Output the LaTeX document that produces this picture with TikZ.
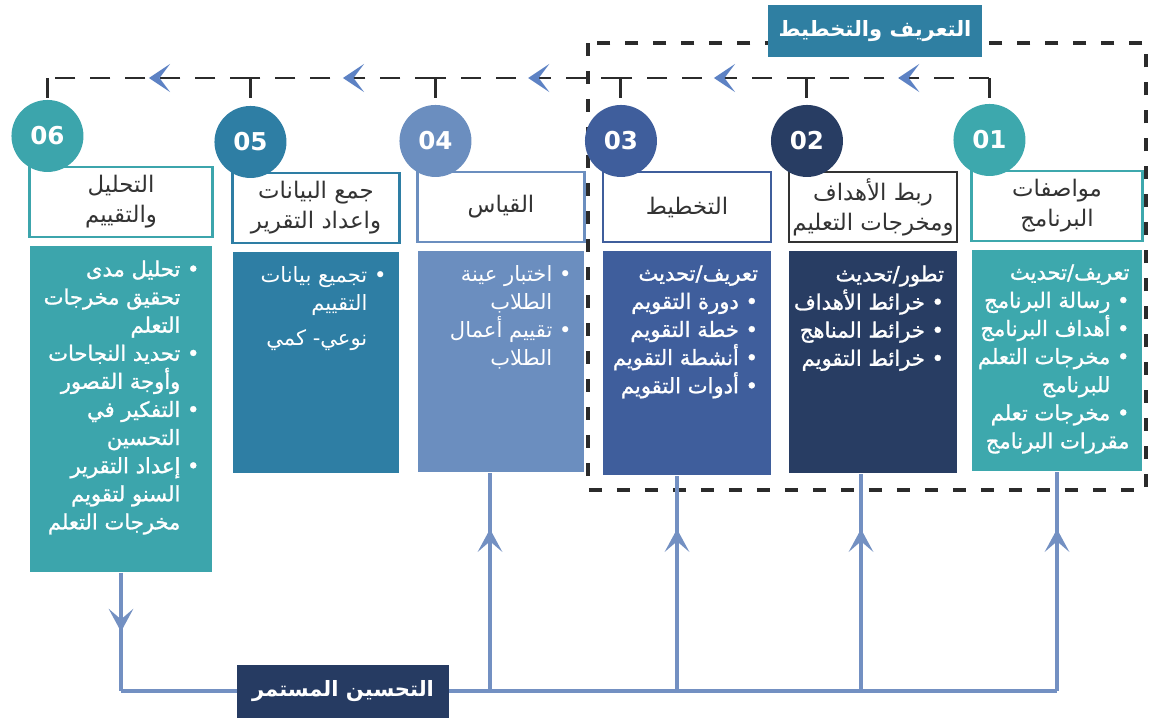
\documentclass[tikz,border=0pt]{standalone}
\usepackage{fontspec}
\setmainfont{DejaVu Sans}
\newfontfamily\arabicfont[Script=Arabic]{DejaVu Sans}
\newfontfamily\arabicmedium[Script=Arabic,FakeBold=1.2]{DejaVu Sans}
\TeXXeTstate=1
\usepackage{xcolor}
\definecolor{STEPA}{HTML}{3DA8AD}
\definecolor{STEPB}{HTML}{283D63}
\definecolor{STEPC}{HTML}{3F5E9C}
\definecolor{STEPD}{HTML}{6B8EBF}
\definecolor{STEPE}{HTML}{2E7EA4}
\definecolor{STEPF}{HTML}{3CA5AC}
\definecolor{TITLECOLOR}{HTML}{2F7FA2}
\definecolor{NAVYCOLOR}{HTML}{263B62}
\definecolor{BUSCOLOR}{HTML}{7390C2}
\definecolor{CHEVCOLOR}{HTML}{5D82C4}
\definecolor{HEADTEXT}{HTML}{333333}
\definecolor{DASHCOLOR}{HTML}{2B2B2B}
\usepackage{tikz}
\usetikzlibrary{positioning,calc,arrows.meta,decorations.markings,backgrounds}
\newcommand\rtxt[1]{\beginR #1\endR}
\newcommand\rbtxt[1]{\arabicmedium\beginR #1\endR}
\newcommand\bul{•\ }
\newcommand\nobul{\phantom{•\ }}
\tikzset{
  head-style/.style = {
    rectangle, draw=#1, line width=1.2pt, fill=white, inner xsep=1pt,
    minimum height=1.4cm, align=center, text=HEADTEXT,
    font=\arabicfont\fontsize{13}{17}\selectfont
  },
  body-style/.style = {
    rectangle, fill=#1, inner sep=0pt
  },
  body-text-style/.style = {
    text=white, align=right, inner sep=0pt, anchor=north east,
    font=\arabicfont\fontsize{12}{16}\selectfont
  },
  num-style/.style = {
    circle, fill=#1, minimum size=1.44cm, inner sep=0pt,
    text=white, font=\bfseries\fontsize{14}{14}\selectfont
  },
  title-style/.style = {
    rectangle, fill=#1, minimum width=4.28cm, minimum height=1.06cm,
    text=white, font=\arabicfont\bfseries\fontsize{12}{14}\selectfont
  },
  frame-style/.style = {
    draw=DASHCOLOR, line width=2.2pt, dash pattern=on 0.26cm off 0.3cm
  },
  flow-dash/.style = {
    draw=DASHCOLOR, line width=1.7pt, dash pattern=on 0.4cm off 0.3cm
  },
  chev-mark/.style = {
    postaction={decorate},
    decoration={markings, mark=at position 0.5 with
      {\arrow{Stealth[length=12pt,width=16pt,inset=6pt,color=CHEVCOLOR]}}}
  },
  bus-line/.style = {
    draw=BUSCOLOR, line width=2.2pt
  },
  bus-mark/.style = {
    postaction={decorate},
    decoration={markings, mark=at position #1 with
      {\arrow{Stealth[length=13pt,width=14pt,inset=6pt,color=BUSCOLOR]}}}
  }
}
% id, colour, border, header centre, number, header text, body text, body height, width
\newcommand\createStage[9]{
  \node[head-style=#3, minimum width=#9] (h#1) at #4 {#6};
  \node[body-style=#2, minimum width=#9, minimum height=#8, below=0.16cm of h#1] (b#1) {};
  \node[body-text-style] (t#1) at ([xshift=-0.26cm,yshift=-0.28cm]b#1.north east) {#7};
  \node[num-style=#2] (n#1) at ([xshift=0.38cm,yshift=0.6cm]h#1.north west) {#5};
}

\begin{document}
\begin{tikzpicture}[x=0.02cm,y=-0.02cm]
  \useasboundingbox (0,0) rectangle (1149,720);

  %%% planning frame
  \begin{pgfonlayer}{background}
    \draw[frame-style] (588,43) rectangle (1146,490);
  \end{pgfonlayer}
  \node[title-style=TITLECOLOR] (plan) at (875,31) {\rtxt{التعريف والتخطيط}};

  %%% stages
  \createStage{1}{STEPA}{STEPA}{(1057,206)}{01}
    {\rtxt{مواصفات}\\\rtxt{البرنامج}}
    {\rbtxt{تعريف/تحديث}\\
     \rbtxt{\bul رسالة البرنامج}\\
     \rbtxt{\bul أهداف البرنامج}\\
     \rbtxt{\bul مخرجات التعلم}\\
     \rbtxt{\nobul للبرنامج}\\
     \rbtxt{\bul مخرجات تعلم}\\
     \rbtxt{مقررات البرنامج}}
    {4.42cm}{3.42cm}
  \createStage{2}{STEPB}{HEADTEXT}{(873,207)}{02}
    {\rtxt{ربط الأهداف}\\\rtxt{ومخرجات التعليم}}
    {\rbtxt{تطور/تحديث}\\
     \rbtxt{\bul خرائط الأهداف}\\
     \rbtxt{\bul خرائط المناهج}\\
     \rbtxt{\bul خرائط التقويم}}
    {4.44cm}{3.36cm}
  \createStage{3}{STEPC}{STEPC}{(687,207)}{03}
    {\rtxt{التخطيط}}
    {\rbtxt{تعريف/تحديث}\\
     \rbtxt{\bul دورة التقويم}\\
     \rbtxt{\bul خطة التقويم}\\
     \rbtxt{\bul أنشطة التقويم}\\
     \rbtxt{\bul أدوات التقويم}}
    {4.48cm}{3.36cm}
  \createStage{4}{STEPD}{STEPD}{(501,207)}{04}
    {\rtxt{القياس}}
    {\rtxt{\bul اختبار عينة}\\
     \rtxt{\nobul الطلاب}\\
     \rtxt{\bul تقييم أعمال}\\
     \rtxt{\nobul الطلاب}}
    {4.42cm}{3.34cm}
  \createStage{5}{STEPE}{STEPE}{(316,208)}{05}
    {\rtxt{جمع البيانات}\\\rtxt{واعداد التقرير}}
    {\rtxt{\bul تجميع بيانات}\\
     \rtxt{\nobul التقييم}\\[4pt]
     \rtxt{\nobul نوعي- كمي}}
    {4.42cm}{3.34cm}
  \createStage{6}{STEPF}{STEPF}{(121,202)}{06}
    {\rtxt{التحليل}\\\rtxt{والتقييم}}
    {\rbtxt{\bul تحليل مدى}\\
     \rbtxt{\nobul تحقيق مخرجات}\\
     \rbtxt{\nobul التعلم}\\
     \rbtxt{\bul تحديد النجاحات}\\
     \rbtxt{\nobul وأوجة القصور}\\
     \rbtxt{\bul التفكير في}\\
     \rbtxt{\nobul التحسين}\\
     \rbtxt{\bul إعداد التقرير}\\
     \rbtxt{\nobul السنو لتقويم}\\
     \rbtxt{\nobul مخرجات التعلم}}
    {6.52cm}{3.66cm}

  %%% flow along the top
  \coordinate (top) at (0,78);
  \foreach \i in {1,...,6}
    \draw[flow-dash] (n\i |- top) -- (n\i.north);
  \foreach \i/\j in {1/2,2/3,3/4,4/5,5/6}
    \draw[flow-dash,chev-mark] (n\i |- top) -- (n\j |- top);

  %%% continuous improvement
  \node[title-style=NAVYCOLOR, minimum width=4.26cm] (cont) at (343,691) {\rtxt{التحسين المستمر}};
  \begin{pgfonlayer}{background}
    \draw[bus-line] (b6.south |- cont) -- (b1.south |- cont);
    \draw[bus-line,bus-mark=1.18cm] (b6.south) -- (b6.south |- cont);
    \foreach \i/\dx in {1/0,2/-0.24,3/-0.2,4/-0.22}
      \draw[bus-line,bus-mark=3.24cm] ([xshift=\dx cm]b\i.south |- cont) -- ([xshift=\dx cm]b\i.south);
  \end{pgfonlayer}
\end{tikzpicture}
\end{document}
